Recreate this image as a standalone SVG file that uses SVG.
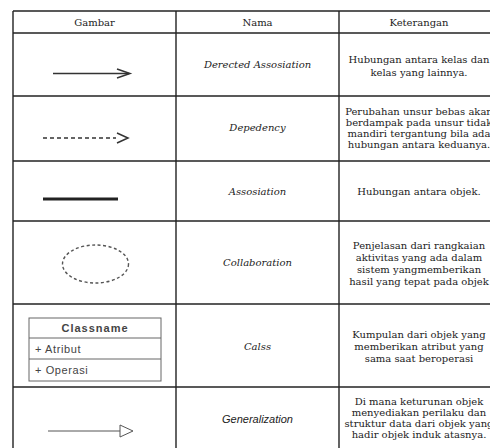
<svg xmlns="http://www.w3.org/2000/svg" width="490" height="448" viewBox="0 0 490 448">
<style>
.grid{stroke:#222;stroke-width:1.4;fill:none}
.hd{font-family:"DejaVu Serif",serif;font-size:10px;fill:#222;text-anchor:middle}
.nm{font-family:"DejaVu Serif",serif;font-size:10px;font-style:italic;fill:#222;text-anchor:middle}
.kt{font-family:"DejaVu Serif",serif;font-size:10px;fill:#222;text-anchor:middle}
.sans{font-family:"Liberation Sans",Arial,sans-serif;fill:#444}
</style>
<rect width="490" height="448" fill="#fff"/>
<g id="table" class="grid">
<line x1="13" y1="11" x2="501" y2="11"/>
<line x1="13" y1="33" x2="501" y2="33"/>
<line x1="13" y1="96" x2="501" y2="96"/>
<line x1="13" y1="161" x2="501" y2="161"/>
<line x1="13" y1="221" x2="501" y2="221"/>
<line x1="13" y1="304" x2="501" y2="304"/>
<line x1="13" y1="387" x2="501" y2="387"/>
<line x1="13" y1="11" x2="13" y2="448"/>
<line x1="176" y1="11" x2="176" y2="448"/>
<line x1="339" y1="11" x2="339" y2="448"/>
<line x1="501" y1="11" x2="501" y2="448"/>
</g>
<g id="header">
<text class="hd" x="94.5" y="26">Gambar</text>
<text class="hd" x="257.5" y="26">Nama</text>
<text class="hd" x="419" y="26">Keterangan</text>
</g>
<g id="connectors" fill="none">
<g id="directed-association" stroke="#333" stroke-width="1.5">
<line x1="53" y1="73.5" x2="129" y2="73.5"/>
<polyline points="117,69 130,73.5 117,78"/>
</g>
<g id="dependency" stroke="#333" stroke-width="1.5">
<line x1="43" y1="138" x2="116" y2="138" stroke-dasharray="4,3"/>
<polyline points="117,133 128,138 117,143"/>
</g>
<g id="association">
<line x1="43" y1="199" x2="118" y2="199" stroke="#222" stroke-width="3"/>
</g>
<g id="generalization" stroke="#555" stroke-width="1">
<line x1="48" y1="431" x2="120" y2="431"/>
<polygon points="120,425 133,431 120,437"/>
</g>
</g>
<g id="collaboration">
<ellipse cx="95.5" cy="264" rx="33" ry="19" fill="none" stroke="#555" stroke-width="1.4" stroke-dasharray="3,2.5"/>
</g>
<g id="classbox">
<rect x="29" y="318" width="132" height="63" fill="#fff" stroke="#666" stroke-width="1"/>
<line x1="29" y1="338" x2="161" y2="338" stroke="#666" stroke-width="1"/>
<line x1="29" y1="359" x2="161" y2="359" stroke="#666" stroke-width="1"/>
<text class="sans" x="95" y="332" font-size="11" font-weight="bold" text-anchor="middle" letter-spacing="1">Classname</text>
<text class="sans" x="35" y="352.5" font-size="11" letter-spacing="0.6">+ Atribut</text>
<text class="sans" x="35" y="374" font-size="11" letter-spacing="0.6">+ Operasi</text>
</g>
<g id="row1">
<text class="nm" x="257.5" y="68">Derected Assosiation</text>
<text class="kt" x="419" y="63">Hubungan antara kelas dan</text>
<text class="kt" x="419" y="76">kelas yang lainnya.</text>
</g>
<g id="row2">
<text class="nm" x="257.5" y="131">Depedency</text>
<text class="kt" x="419" y="115">Perubahan unsur bebas akan</text>
<text class="kt" x="419" y="126">berdampak pada unsur tidak</text>
<text class="kt" x="419" y="137">mandiri tergantung bila ada</text>
<text class="kt" x="419" y="148">hubungan antara keduanya.</text>
</g>
<g id="row3">
<text class="nm" x="257.5" y="195">Assosiation</text>
<text class="kt" x="419" y="195">Hubungan antara objek.</text>
</g>
<g id="row4">
<text class="nm" x="257.5" y="266">Collaboration</text>
<text class="kt" x="419" y="249">Penjelasan dari rangkaian</text>
<text class="kt" x="419" y="261">aktivitas yang ada dalam</text>
<text class="kt" x="419" y="273">sistem yangmemberikan</text>
<text class="kt" x="419" y="285">hasil yang tepat pada objek</text>
</g>
<g id="row5">
<text class="nm" x="257.5" y="350">Calss</text>
<text class="kt" x="419" y="338">Kumpulan dari objek yang</text>
<text class="kt" x="419" y="350">memberikan atribut yang</text>
<text class="kt" x="419" y="362">sama saat beroperasi</text>
</g>
<g id="row6">
<text x="257.5" y="423" font-family="Liberation Sans, Arial, sans-serif" font-size="11" font-style="italic" fill="#222" text-anchor="middle">Generalization</text>
<text class="kt" x="419" y="405">Di mana keturunan objek</text>
<text class="kt" x="419" y="416">menyediakan perilaku dan</text>
<text class="kt" x="419" y="427">struktur data dari objek yang</text>
<text class="kt" x="419" y="438">hadir objek induk atasnya.</text>
</g>
</svg>
